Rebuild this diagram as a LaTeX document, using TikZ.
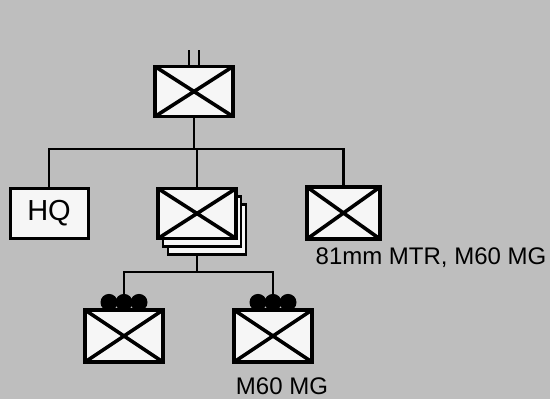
\documentclass[tikz,border=0pt]{standalone}
\usepackage{fontspec}
\setmainfont{Liberation Sans}
\usetikzlibrary{shadows}
\definecolor{bg}{RGB}{190,190,190}
\definecolor{boxfill}{RGB}{246,246,246}
\begin{document}
\begin{tikzpicture}[x=1pt,y=-1pt,
  unitbox/.style={draw=black,line width=3.2pt,fill=boxfill,rectangle,inner sep=0pt,
    minimum width=78pt,minimum height=50pt,
    path picture={\draw[line width=3.6pt] (path picture bounding box.north west) -- (path picture bounding box.south east)
      (path picture bounding box.north east) -- (path picture bounding box.south west);}},
  plainbox/.style={draw=black,line width=3pt,fill=boxfill,rectangle,inner sep=0pt,
    minimum width=78pt,minimum height=50pt},
  conn/.style={line width=2.6pt,black},
  lbl/.style={font=\fontsize{24}{28}\selectfont,inner sep=0pt,text=black}
]
\useasboundingbox (0,0) rectangle (550,399);
\fill[bg] (0,0) rectangle (550,399);

% units
\node[unitbox] (top) at (194,91.5) {};
\node[plainbox,font=\fontsize{29}{32}\selectfont] (hq) at (49,213) {HQ};
\node[unitbox,double copy shadow={shadow xshift=5pt,shadow yshift=-8pt,draw=black,line width=2.8pt,fill=boxfill}] (mid) at (197,213.5) {};
\node[unitbox,minimum width=73pt,minimum height=52pt] (rt) at (343.5,213) {};
\node[unitbox,minimum height=52pt] (bl) at (124,336) {};
\node[unitbox,minimum height=52pt] (br) at (273,336) {};

% labels
\node[lbl] (lrt) at (431,258) {81mm MTR, M60 MG};
\node[lbl] (lbr) at (282,386) {M60 MG};

% top ticks
\draw[conn] ([xshift=-5pt]top.north) -- ++(0,-15);
\draw[conn] ([xshift=5pt]top.north) -- ++(0,-15);

% first level bar
\coordinate (b1) at (194,149);
\draw[conn] (top.south) -- (top.south |- b1);
\draw[conn] (hq.north) -- (hq.north |- b1) -- (rt.north |- b1) -- (rt.north);
\draw[conn] (mid.north) -- (mid.north |- b1);

% machine-gun blobs
\foreach \n in {bl,br}{
  \foreach \dx in {-15,0,15}{
    \fill[black] ([xshift=\dx pt,yshift=6pt]\n.north) circle (8.5pt);
  }
}

% second level bar
\coordinate (b2) at (197,272);
\coordinate (ms) at ([yshift=-16pt]mid.south);
\draw[conn] (ms) -- (ms |- b2);
\draw[conn] ([yshift=14pt]bl.north) -- (bl.north |- b2) -- (br.north |- b2) -- ([yshift=14pt]br.north);
\end{tikzpicture}
\end{document}
